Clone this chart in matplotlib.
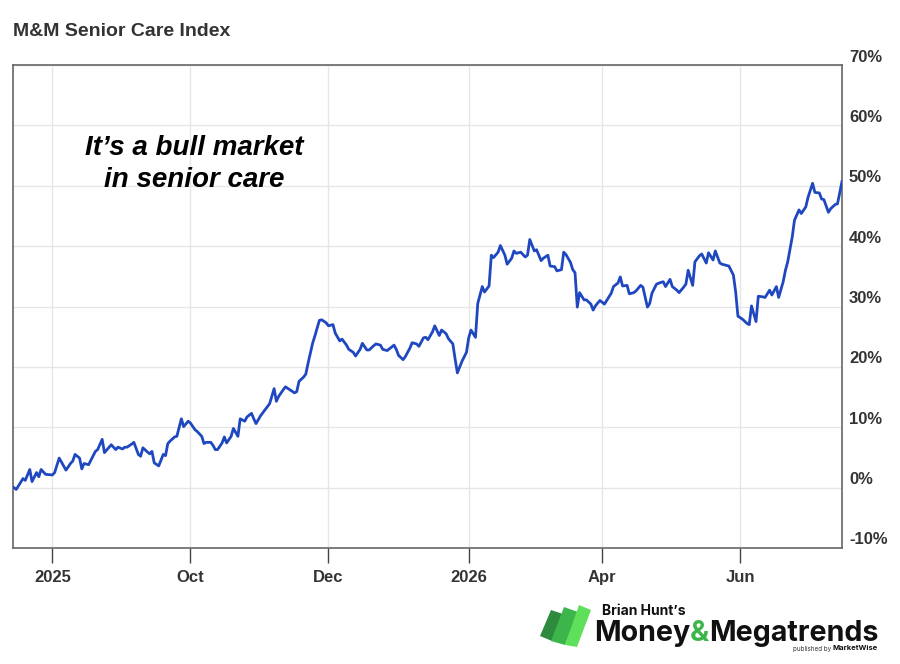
import matplotlib
matplotlib.use("Agg")
import matplotlib.pyplot as plt
import numpy as np
import pandas as pd
from matplotlib.transforms import offset_copy
from matplotlib.patches import Polygon

# index values (% gain); day = calendar days after start
start = pd.Timestamp("2025-07-15")
days = [0, 1, 2, 4, 5, 7, 8, 10, 11, 12, 14, 17, 18, 20, 23, 25, 26, 27, 29, 30,
        31, 33, 36, 37, 39, 40, 43, 45, 46, 48, 49, 50, 52, 53, 55, 56, 57, 59, 60, 61,
        62, 64, 66, 67, 68, 69, 71, 72, 74, 75, 77, 78, 80, 81, 83, 84, 85, 87, 88, 89,
        90, 92, 93, 94, 96, 97, 99, 100, 102, 103, 105, 106, 107, 109, 110, 112, 113, 115, 116, 117,
        119, 120, 122, 124, 125, 126, 128, 129, 130, 132, 133, 135, 136, 138, 139, 141, 142, 144, 145, 147,
        148, 150, 151, 153, 154, 156, 157, 159, 160, 162, 163, 165, 166, 168, 169, 170, 172, 173, 175, 176,
        178, 179, 181, 182, 183, 185, 186, 188, 189, 191, 192, 194, 195, 196, 198, 200, 201, 202, 204, 205,
        207, 208, 210, 211, 212, 214, 215, 217, 218, 220, 221, 222, 224, 226, 227, 228, 230, 231, 233, 234,
        236, 237, 239, 240, 242, 243, 244, 246, 247, 248, 249, 250, 252, 253, 255, 256, 257, 259, 261, 262,
        264, 265, 267, 268, 269, 271, 272, 274, 275, 277, 278, 280, 281, 282, 284, 286, 287, 288, 290, 291,
        293, 294, 296, 297, 298, 300, 301, 303, 304, 306, 307, 309, 310, 312, 313, 315, 316, 318, 319, 320,
        322, 324, 325, 326, 328, 329, 331, 332, 334, 335, 337, 338, 340, 341, 342, 344, 345, 347, 348, 350,
        351, 353, 354, 356, 357, 358, 360, 361, 363, 364, 366]
values = [0.0, -0.3, 0.3, 1.5, 1.2, 3.0, 1.0, 2.5, 1.8, 3.0, 2.2, 2.1, 2.5, 4.9, 2.9, 4.0, 4.4, 5.5, 4.9, 3.1,
          4.0, 3.8, 6.0, 6.3, 8.0, 5.8, 7.1, 6.3, 6.7, 6.4, 6.7, 6.7, 7.2, 7.5, 5.5, 5.2, 6.6, 5.9, 5.6, 6.0,
          4.1, 3.6, 5.5, 5.3, 7.3, 7.7, 8.4, 8.5, 11.4, 10.1, 11.0, 10.7, 9.6, 9.3, 8.5, 7.3, 7.5, 7.5, 7.0, 6.3,
          6.3, 7.4, 8.4, 7.4, 8.5, 9.8, 8.5, 11.4, 11.0, 11.7, 12.3, 11.4, 10.6, 11.9, 12.4, 13.4, 13.9, 16.4, 14.3, 15.1,
          16.2, 16.7, 16.2, 15.7, 15.9, 17.6, 18.3, 18.8, 20.6, 23.9, 25.1, 27.7, 27.8, 27.3, 26.8, 27.0, 25.6, 24.3, 24.6, 23.6,
          22.9, 22.4, 21.8, 22.9, 23.9, 22.8, 22.8, 23.5, 23.8, 23.6, 22.9, 22.7, 23.0, 23.6, 22.9, 21.9, 21.2, 21.7, 23.1, 24.0,
          23.8, 23.4, 24.8, 24.9, 24.5, 25.8, 26.8, 25.2, 26.1, 25.5, 24.7, 23.8, 21.3, 19.0, 20.9, 22.4, 24.8, 26.1, 24.9, 30.5,
          33.3, 32.4, 33.4, 38.5, 38.1, 39.0, 40.1, 38.5, 37.0, 38.0, 39.2, 38.8, 39.0, 38.2, 38.5, 41.1, 39.2, 39.4, 37.6, 38.0,
          38.5, 36.7, 36.6, 35.9, 36.1, 39.0, 38.6, 37.3, 36.1, 35.6, 29.9, 32.3, 31.1, 31.1, 30.4, 29.4, 30.1, 31.0, 30.4, 31.0,
          32.2, 33.3, 33.9, 34.9, 33.4, 33.5, 32.1, 32.3, 32.6, 33.5, 33.2, 29.9, 30.5, 32.2, 33.7, 34.0, 34.1, 33.3, 34.5, 33.3,
          32.7, 32.3, 33.2, 33.7, 36.0, 33.5, 37.4, 38.4, 38.7, 37.2, 38.9, 37.7, 39.2, 37.2, 37.0, 36.8, 36.7, 35.2, 32.4, 28.4,
          27.9, 27.2, 27.0, 30.1, 27.5, 31.7, 31.6, 31.5, 32.7, 31.9, 33.3, 31.5, 34.1, 36.0, 37.4, 41.5, 44.3, 46.0, 45.4, 46.5,
          48.1, 50.4, 48.9, 48.8, 47.8, 47.7, 45.6, 46.2, 46.9, 47.0, 50.7]

tick_dates = ["2025-08-01", "2025-10-01", "2025-12-01", "2026-02-01", "2026-04-01", "2026-06-01"]
tick_labels = ["2025", "Oct", "Dec", "2026", "Apr", "Jun"]
y_ticks = [-10, 0, 10, 20, 30, 40, 50, 60, 70]

dates = start + pd.to_timedelta(days, unit="D")

plt.rcParams["font.family"] = ["Liberation Sans", "DejaVu Sans"]
txt = "#333333"

fig = plt.figure(figsize=(9, 6.64), dpi=100)
W, H = 900, 664
ax = fig.add_axes([13 / W, 1 - 548 / H, (842 - 13) / W, (548 - 65) / H])

ax.plot(dates, values, color="#1f48c0", lw=2.0, solid_joinstyle="round", zorder=3)

ax.set_ylim(-10, 70)
ax.set_xlim(start - pd.Timedelta(hours=10), start + pd.Timedelta(days=366))

ax.set_yticks(y_ticks)
ax.set_yticklabels([])
ax.tick_params(axis="y", length=0)
ax.set_xticks(pd.to_datetime(tick_dates))
ax.set_xticklabels(tick_labels, fontsize=12, fontweight="bold", color=txt)
ax.tick_params(axis="x", length=11, width=1, color="#444444", pad=5)
ax.grid(True, color="#e6e6e6", lw=1, zorder=0)

for s in ax.spines.values():
    s.set_color("#666666")
    s.set_linewidth(1.2)

# right side labels sit a little above their gridlines
lab_tr = offset_copy(ax.get_yaxis_transform(), fig=fig, x=7, y=8, units="dots")
for v in y_ticks:
    ax.text(1, v, f"{v}%", transform=lab_tr, ha="left", va="center",
            fontsize=12, fontweight="bold", color=txt)

fig.text(13 / W, 1 - 31 / H, "M&M Senior Care Index", fontsize=14, fontweight="bold",
         color=txt, va="center", ha="left")

fig.text(194 / W, 1 - 164 / H, "It\u2019s a bull market\nin senior care", fontsize=20,
         fontweight="bold", style="italic", color="black", ha="center", va="center",
         linespacing=1.3)

# logo
def px(pts):
    return [(x / W, 1 - y / H) for x, y in pts]

bars = [([(540, 636), (552, 641), (563, 614), (551, 610)], "#2e8b3e"),
        ([(551, 641), (565, 645), (578, 612), (564, 607)], "#3cb54a"),
        ([(565, 645), (577, 647), (591, 610), (579, 605)], "#5fe05a")]
for pts, c in bars:
    fig.patches.append(Polygon(px(pts), closed=True, facecolor=c, edgecolor="none",
                               transform=fig.transFigure))

logo_font = ["Inter", "DejaVu Sans"]
fig.text(602 / W, 1 - 611 / H, "Brian Hunt\u2019s", fontsize=10, fontweight="bold",
         family=logo_font, color="#111111", va="center", ha="left")

renderer = fig.canvas.get_renderer()
parts = [("Money", "#111111"), ("&", "#3cb54a"), ("Megatrends", "#111111")]
size = 19
tmp = [fig.text(0, 0, p, fontsize=size, fontweight="bold", family=logo_font) for p, _ in parts]
total = sum(t.get_window_extent(renderer).width for t in tmp)
for t in tmp:
    t.remove()
size = size * 285 / total
x0 = 594
for p, c in parts:
    t = fig.text(x0 / W, 1 - 641 / H, p, fontsize=size, fontweight="bold", family=logo_font,
                 color=c, va="baseline", ha="left")
    x0 += t.get_window_extent(renderer).width

mw = fig.text(878 / W, 1 - 648.5 / H, "MarketWise", fontsize=5.5, fontweight="bold",
              family=logo_font, color="#111111", va="center", ha="right")
mw_left = mw.get_window_extent(renderer).x0
fig.text((mw_left - 2) / W, 1 - 648.5 / H, "published by", fontsize=4.5, family=logo_font,
         color="#333333", va="center", ha="right")

fig.savefig("out.png", dpi=100, facecolor="white")
